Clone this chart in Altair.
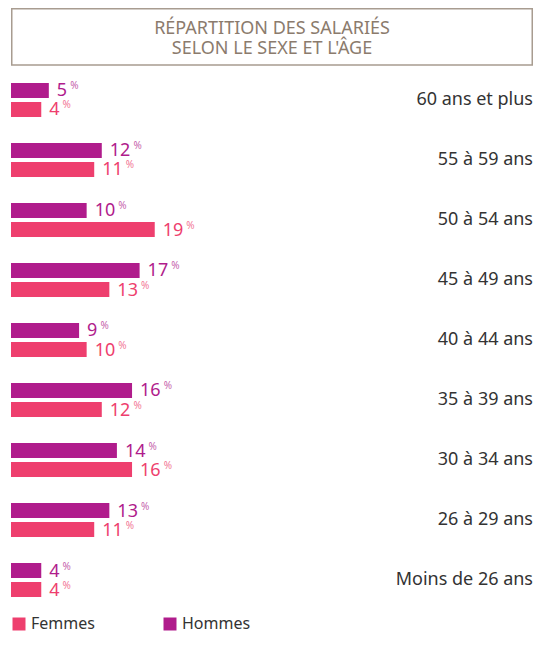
import altair as alt
import pandas as pd

ages = ["60 ans et plus", "55 à 59 ans", "50 à 54 ans", "45 à 49 ans", "40 à 44 ans",
        "35 à 39 ans", "30 à 34 ans", "26 à 29 ans", "Moins de 26 ans"]
hommes = [5, 12, 10, 17, 9, 16, 14, 13, 4]
femmes = [4, 11, 19, 13, 10, 12, 16, 11, 4]
genders = ["Femmes", "Hommes"]
colors = ["#ee3f6e", "#b01c8c"]
title_lines = ["RÉPARTITION DES SALARIÉS", "SELON LE SEXE ET L'ÂGE"]

rows = []
for a, h, f in zip(ages, hommes, femmes):
    rows.append({"age": a, "genre": "Hommes", "pct": h})
    rows.append({"age": a, "genre": "Femmes", "pct": f})
df = pd.DataFrame(rows)
df_ages = pd.DataFrame({"age": ages})
df_title = pd.DataFrame({"t": [0]})

W = 522          # plot width
P = 536          # plot height
TOP = 64         # space above plot for the title box
XMAX = 69.0      # percent at the right edge of the plot
PX_PER_UNIT = W / XMAX
FONT = "Noto Sans"

y = alt.Y("age:N", sort=ages, axis=None,
          scale=alt.Scale(paddingInner=0.4333, paddingOuter=0.1833))
yo = alt.YOffset("genre:N", sort=["Hommes", "Femmes"],
                 scale=alt.Scale(paddingInner=0.2105, paddingOuter=0))
x = alt.X("pct:Q", axis=None, scale=alt.Scale(domain=[0, XMAX], nice=False, zero=True))
color = alt.Color(
    "genre:N",
    scale=alt.Scale(domain=genders, range=colors),
    legend=alt.Legend(
        orient="bottom", offset=8, direction="horizontal", title=None,
        symbolType="square", symbolSize=169, symbolStrokeWidth=0, symbolOpacity=1,
        labelFont=FONT, labelFontSize=16, labelColor="#333333",
        columnPadding=67, labelOffset=4, padding=0,
    ),
)

base = alt.Chart(df)
bars = base.mark_bar().encode(x=x, y=y, yOffset=yo, color=color)
nums = base.mark_text(align="left", baseline="middle", dx=8, dy=1, font=FONT,
                      fontSize=18).encode(
    x=x, y=y, yOffset=yo, text="pct:Q", color=color)
pcts = base.transform_calculate(
    ppos=f"datum.pct + (8 + length(toString(datum.pct)) * 10.3 + 3) / {PX_PER_UNIT}"
).mark_text(text="%", align="left", baseline="middle", dy=-4, font=FONT,
            fontSize=10, opacity=0.72).encode(
    x=alt.X("ppos:Q", axis=None, scale=alt.Scale(domain=[0, XMAX], nice=False, zero=True)),
    y=y, yOffset=yo, color=color)
labels = alt.Chart(df_ages).mark_text(
    align="right", baseline="middle", font=FONT, fontSize=18, color="#333333"
).encode(x=alt.value(W), y=y, text="age:N")

box = alt.Chart(df_title).mark_rect(
    fill="white", stroke="#a89c90", strokeWidth=1.5
).encode(x=alt.value(0.75), x2=alt.value(W - 0.75),
         y=alt.value(-TOP + 0.75), y2=alt.value(-7))
ttl = alt.Chart(df_title).mark_text(
    text=title_lines, font=FONT, fontSize=18, color="#8b7b6d", lineHeight=20,
    align="center", baseline="middle"
).encode(x=alt.value(W / 2), y=alt.value(-43))

chart = alt.layer(box, ttl, bars, nums, pcts, labels).properties(
    width=W, height=P,
    padding={"left": 3, "top": 0, "right": 0, "bottom": 3},
).configure_view(stroke=None)

chart.save("out.html", embed_options={"renderer": "svg", "actions": False})
